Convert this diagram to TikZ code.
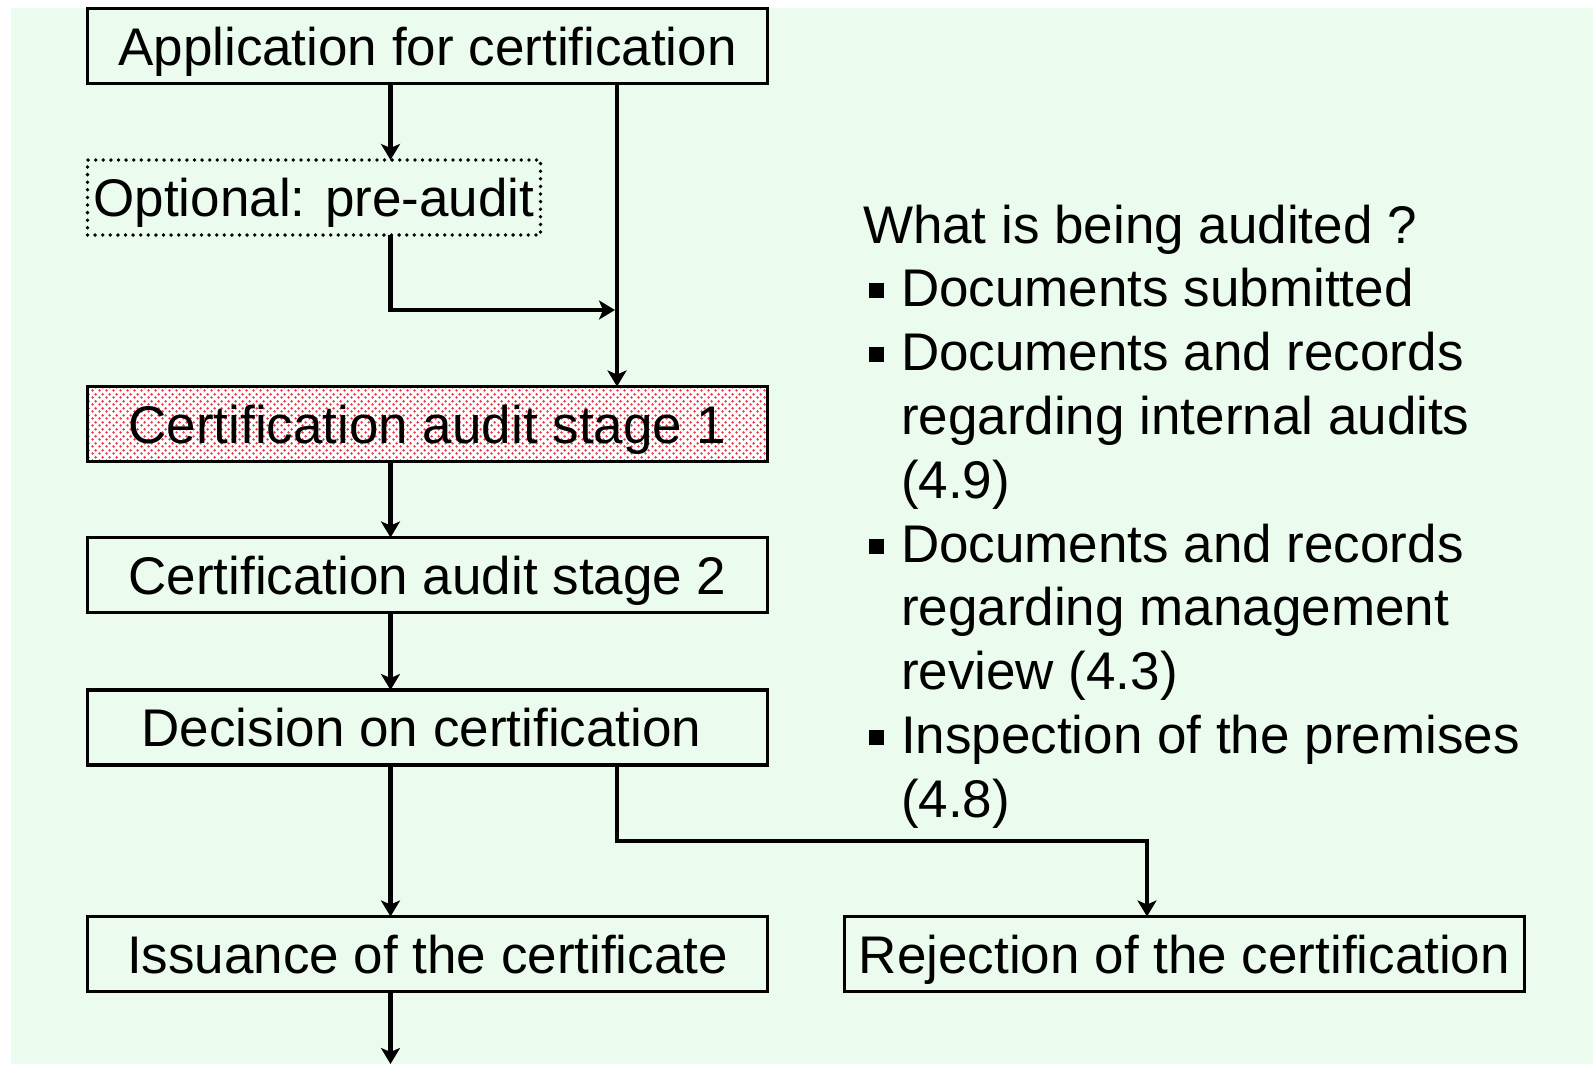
\documentclass[tikz,border=0pt]{standalone}
\usepackage{fontspec}
\setmainfont{Liberation Sans}
\usetikzlibrary{arrows.meta,patterns}
\definecolor{bggreen}{RGB}{235,252,239}
\definecolor{dotred}{RGB}{240,50,65}
\pgfdeclarepatternformonly{reddots}{\pgfqpoint{0bp}{0bp}}{\pgfqpoint{7bp}{7bp}}{\pgfqpoint{7bp}{7bp}}{%
  \pgfpathcircle{\pgfqpoint{1.75bp}{1.75bp}}{1.5bp}%
  \pgfpathcircle{\pgfqpoint{5.25bp}{5.25bp}}{1.5bp}%
  \pgfusepath{fill}}
\begin{document}
\begin{tikzpicture}[x=1bp,y=-1bp,
  bigfont/.style={font=\fontsize{53bp}{64bp}\selectfont},
  box/.style={draw, line width=3.5bp, minimum width=680bp, minimum height=75bp,
    inner sep=0pt, outer sep=0pt, text height=38bp, text depth=0pt, bigfont},
  dotbox/.style={box, draw, dash pattern=on 0bp off 7.6bp, line cap=round, line width=3.8bp},
  hatchbox/.style={box, preaction={fill=white}, pattern=reddots, pattern color=dotred},
  arr/.style={line width=4.5bp, line join=miter, -{Stealth[length=16bp,width=19bp,inset=4bp]}},
  txt/.style={anchor=base west, inner sep=0pt, outer sep=0pt, bigfont},
  blt/.style={fill=black, minimum size=15bp, inner sep=0pt, outer sep=0pt}]
% canvas
\fill[white] (0,0) rectangle (1593,1064);
\useasboundingbox (0,0) rectangle (1593,1064);
\fill[bggreen] (11,8) rectangle (1593,1064);
% boxes
\node[box] (app) at (427.5,46) {Application for certification};
\node[dotbox, minimum width=453bp] (opt) at (314,197.5) {Optional: pre-audit};
\node[hatchbox] (st1) at (427.5,424) {Certification audit stage 1};
\node[box] (st2) at (427.5,575) {Certification audit stage 2};
\node[box] (dec) at (427.5,727.5) {Decision on certification\hspace*{12bp}};
\node[box] (iss) at (427.5,954) {Issuance of the certificate};
\node[box] (rej) at (1184.5,954) {Rejection of the certification};
% helper coordinates
\coordinate (xl) at (390.5,0);
\coordinate (xr) at (617,0);
\coordinate (j1) at (615,310);
\coordinate (jr) at (1147,841);
\coordinate (bot) at (390.5,1064);
% connectors
\draw[arr] (app.south -| xl) -- (opt.north -| xl);
\draw[arr] (app.south -| xr) -- (st1.north -| xr);
\draw[arr] (opt.south -| xl) |- (j1);
\draw[arr] (st1.south -| xl) -- (st2.north -| xl);
\draw[arr] (st2.south -| xl) -- (dec.north -| xl);
\draw[arr] (dec.south -| xl) -- (iss.north -| xl);
\draw[arr] (dec.south -| xr) |- (jr) -- (rej.north -| jr);
\draw[arr] (iss.south -| xl) -- (bot);
% right-hand text
\node[txt] (q0) at (863,243) {What is being audited ?};
\node[txt] (q1) at (901,306.8) {Documents submitted};
\node[txt] (q2) at (901,370.6) {Documents and records};
\node[txt] (q3) at (901,434.4) {regarding internal audits};
\node[txt] (q4) at (901,498.2) {(4.9)};
\node[txt] (q5) at (901,562) {Documents and records};
\node[txt] (q6) at (901,625.8) {regarding management};
\node[txt] (q7) at (901,689.6) {review (4.3)};
\node[txt] (q8) at (901,753.4) {Inspection of the premises};
\node[txt] (q9) at (901,817.2) {(4.8)};
\node[blt] (b1) at (876,290.8) {};
\node[blt] (b2) at (876,354.6) {};
\node[blt] (b3) at (876,546) {};
\node[blt] (b4) at (876,737.4) {};
\end{tikzpicture}
\end{document}
